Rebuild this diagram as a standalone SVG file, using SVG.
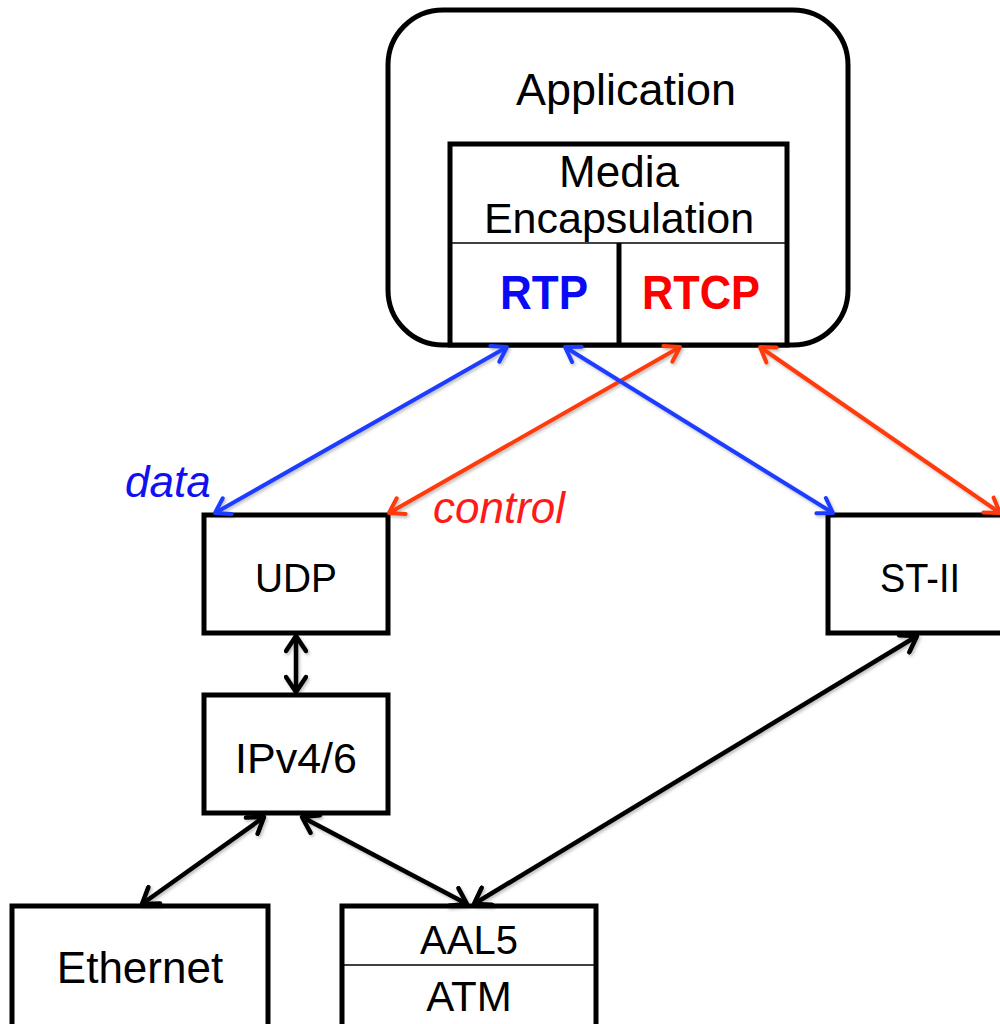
<svg xmlns="http://www.w3.org/2000/svg" width="1000" height="1024" viewBox="0 0 1000 1024">
  <style>
    .box { fill: #ffffff; stroke: #000000; stroke-width: 5; }
    .thin { stroke: #000000; stroke-width: 1.5; fill: none; }
    .lbl { font-family: "Liberation Sans", Arial, sans-serif; fill: #000000; text-anchor: middle; }
    .proto { font-family: "Liberation Sans", Arial, sans-serif; font-weight: bold; text-anchor: middle; font-size: 49px; }
    .note { font-family: "Liberation Sans", Arial, sans-serif; font-style: italic; font-size: 44px; }
    .c-blue { stroke: #1f3cff; stroke-width: 4; fill: none; }
    .c-red { stroke: #ff3a0a; stroke-width: 4; fill: none; }
    .c-black { stroke: #000000; stroke-width: 4.5; fill: none; }
  </style>
  <defs>
    <filter id="shadow" x="-10%" y="-10%" width="120%" height="120%">
      <feDropShadow dx="1.5" dy="2" stdDeviation="1.5" flood-color="#000000" flood-opacity="0.25"/>
    </filter>
    <marker id="head-blue" viewBox="-2 -12 22 24" refX="16" refY="0" markerWidth="22" markerHeight="24" markerUnits="userSpaceOnUse" orient="auto-start-reverse">
      <path d="M2,-9 L16,0 L2,9" fill="none" stroke="#1f3cff" stroke-width="4" stroke-linecap="round" stroke-linejoin="round"/>
    </marker>
    <marker id="head-red" viewBox="-2 -12 22 24" refX="16" refY="0" markerWidth="22" markerHeight="24" markerUnits="userSpaceOnUse" orient="auto-start-reverse">
      <path d="M2,-9 L16,0 L2,9" fill="none" stroke="#ff3a0a" stroke-width="4" stroke-linecap="round" stroke-linejoin="round"/>
    </marker>
    <marker id="head-black" viewBox="-2 -12 22 24" refX="16" refY="0" markerWidth="22" markerHeight="24" markerUnits="userSpaceOnUse" orient="auto-start-reverse">
      <path d="M1,-10 L16,0 L1,10" fill="none" stroke="#000000" stroke-width="4.5" stroke-linecap="round" stroke-linejoin="round"/>
    </marker>
  </defs>

  <rect width="1000" height="1024" fill="#ffffff"/>

  <!-- Application with media encapsulation, RTP and RTCP -->
  <g id="application">
    <rect class="box" x="388" y="10" width="460" height="335" rx="55" ry="55"/>
    <text class="lbl" x="626" y="105" font-size="45">Application</text>
  </g>
  <g id="media-encapsulation">
    <rect class="box" x="450" y="144" width="337" height="201"/>
    <line class="thin" x1="450" y1="243" x2="787" y2="243"/>
    <text class="lbl" x="619" y="187" font-size="44">Media</text>
    <text class="lbl" x="619" y="233" font-size="43">Encapsulation</text>
  </g>
  <g id="rtp">
    <text class="proto" x="544" y="309" fill="#0a0af5" textLength="88" lengthAdjust="spacingAndGlyphs">RTP</text>
  </g>
  <g id="rtcp">
    <line x1="619" y1="243" x2="619" y2="345" stroke="#000000" stroke-width="5"/>
    <text class="proto" x="701" y="309" fill="#ff0000" textLength="118" lengthAdjust="spacingAndGlyphs">RTCP</text>
  </g>

  <!-- Transport and network layers -->
  <g id="udp">
    <rect class="box" x="204" y="515" width="184" height="118"/>
    <text class="lbl" x="296" y="592" font-size="40" textLength="82" lengthAdjust="spacingAndGlyphs">UDP</text>
  </g>
  <g id="st-ii">
    <rect class="box" x="828" y="515" width="190" height="118"/>
    <text class="lbl" x="920" y="592" font-size="40" textLength="80" lengthAdjust="spacingAndGlyphs">ST-II</text>
  </g>
  <g id="ipv4-6">
    <rect class="box" x="204" y="695" width="184" height="118"/>
    <text class="lbl" x="296" y="773" font-size="43">IPv4/6</text>
  </g>
  <g id="ethernet">
    <rect class="box" x="12" y="906" width="256" height="130"/>
    <text class="lbl" x="140" y="983" font-size="44">Ethernet</text>
  </g>
  <g id="aal5-atm">
    <rect class="box" x="342" y="906" width="254" height="130"/>
    <line class="thin" x1="342" y1="965" x2="596" y2="965"/>
    <text class="lbl" x="469" y="954" font-size="40">AAL5</text>
    <text class="lbl" x="469" y="1011" font-size="42">ATM</text>
  </g>

  <!-- Connectors -->
  <g id="connectors" filter="url(#shadow)">
    <line class="c-blue" x1="507" y1="347" x2="215" y2="513" marker-start="url(#head-blue)" marker-end="url(#head-blue)"/>
    <line class="c-red" x1="680" y1="347" x2="389" y2="513" marker-start="url(#head-red)" marker-end="url(#head-red)"/>
    <line class="c-blue" x1="565" y1="347" x2="833" y2="513" marker-start="url(#head-blue)" marker-end="url(#head-blue)"/>
    <line class="c-red" x1="760" y1="347" x2="1000" y2="513" marker-start="url(#head-red)" marker-end="url(#head-red)"/>
    <line class="c-black" x1="296" y1="636" x2="296" y2="692" marker-start="url(#head-black)" marker-end="url(#head-black)"/>
    <line class="c-black" x1="264" y1="817" x2="142" y2="904" marker-start="url(#head-black)" marker-end="url(#head-black)"/>
    <line class="c-black" x1="302" y1="817" x2="467" y2="904" marker-start="url(#head-black)" marker-end="url(#head-black)"/>
    <line class="c-black" x1="917" y1="636" x2="474" y2="904" marker-start="url(#head-black)" marker-end="url(#head-black)"/>
  </g>

  <!-- Connector labels -->
  <text class="note" x="125" y="497" fill="#1010f0">data</text>
  <text class="note" x="433" y="523" fill="#ff1a1a">control</text>
</svg>
